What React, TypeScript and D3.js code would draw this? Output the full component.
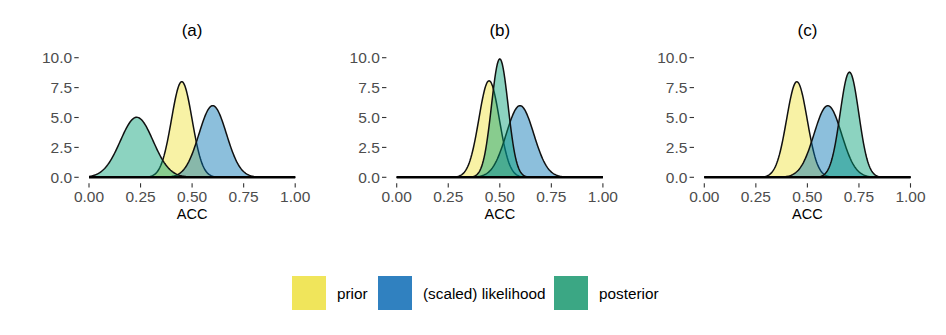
import React from "react";
import * as d3 from "d3";

const panels = ["(a)", "(b)", "(c)"];
const seriesNames = ["prior", "(scaled) likelihood", "posterior"];
// per panel: mean and sd of each series
const priorMean = [0.45, 0.448, 0.449];
const priorSd = [0.0499, 0.0494, 0.0499];
const likMean = [0.6, 0.598, 0.599];
const likSd = [0.0666, 0.0666, 0.0666];
const postMean = [0.2315, 0.5, 0.704];
const postSd = [0.0795, 0.0403, 0.0454];
const xTicks = [0, 0.25, 0.5, 0.75, 1];
const yTicks = [0, 2.5, 5, 7.5, 10];

const fillColors = ["rgba(240,228,66,0.48)", "rgba(0,114,178,0.45)", "rgba(0,158,115,0.45)"];
const keyColors = ["#F0E55B", "#3081C0", "#3BA784"];

const W = 946;
const H = 335;
const dataLeft = [89, 396.7, 704.3];
const dataWidth = 206.2;
const y0px = 177.3;
const y10px = 57.7;

function dnorm(x: number, m: number, s: number) {
  return Math.exp(-0.5 * ((x - m) / s) ** 2) / (s * Math.sqrt(2 * Math.PI));
}

const grid = d3.range(0, 1.0001, 0.004);

export default function App() {
  const y = d3.scaleLinear().domain([0, 10]).range([y0px, y10px]);
  const fontFamily = "'Liberation Sans', Arial, sans-serif";
  const legendItems = [
    { key: 292, text: 337 },
    { key: 378, text: 423 },
    { key: 554, text: 599 },
  ];
  return (
    <svg width={W} height={H} style={{ position: "absolute", left: 0, top: 0, background: "#fff" }} fontFamily={fontFamily}>
      {panels.map((p, i) => {
        const x = d3.scaleLinear().domain([0, 1]).range([dataLeft[i], dataLeft[i] + dataWidth]);
        const panelLeft = dataLeft[i] - dataWidth * 0.05;
        const panelBottom = y0px + (y0px - y10px) * 0.0495;
        const params = [
          [priorMean[i], priorSd[i]],
          [likMean[i], likSd[i]],
          [postMean[i], postSd[i]],
        ];
        return (
          <g key={p}>
            <text x={x(0.5)} y={36} textAnchor="middle" fontSize={17} fill="#000">
              {p}
            </text>
            {params.map(([m, s], k) => {
              const a = d3
                .area<number>()
                .x((d) => x(d))
                .y0(y(0))
                .y1((d) => y(dnorm(d, m, s)));
              const l = d3
                .line<number>()
                .x((d) => x(d))
                .y((d) => y(dnorm(d, m, s)));
              return (
                <g key={k}>
                  <path d={a(grid) || ""} fill={fillColors[k]} stroke="none" />
                  <path d={l(grid) || ""} fill="none" stroke="#111" strokeWidth={1.5} />
                </g>
              );
            })}
            <line x1={x(0)} x2={x(1)} y1={y(0)} y2={y(0)} stroke="#000" strokeWidth={2.6} />
            {yTicks.map((t) => (
              <g key={t}>
                <line x1={panelLeft - 4.4} x2={panelLeft} y1={y(t)} y2={y(t)} stroke="#333" strokeWidth={1.1} />
                <text x={panelLeft - 6.6} y={y(t)} dy="0.36em" textAnchor="end" fontSize={15.5} fill="#4D4D4D">
                  {d3.format(".1f")(t)}
                </text>
              </g>
            ))}
            {xTicks.map((t) => (
              <g key={t}>
                <line x1={x(t)} x2={x(t)} y1={panelBottom} y2={panelBottom + 4.4} stroke="#333" strokeWidth={1.1} />
                <text x={x(t)} y={202} textAnchor="middle" fontSize={15.5} fill="#4D4D4D">
                  {d3.format(".2f")(t)}
                </text>
              </g>
            ))}
            <text x={x(0.5)} y={219} textAnchor="middle" fontSize={14.5} fill="#000">
              ACC
            </text>
          </g>
        );
      })}
      {seriesNames.map((n, k) => (
        <g key={n}>
          <rect x={legendItems[k].key} y={276} width={34} height={34} fill={keyColors[k]} />
          <text x={legendItems[k].text} y={293} dy="0.36em" fontSize={15.3} fill="#000">
            {n}
          </text>
        </g>
      ))}
    </svg>
  );
}
